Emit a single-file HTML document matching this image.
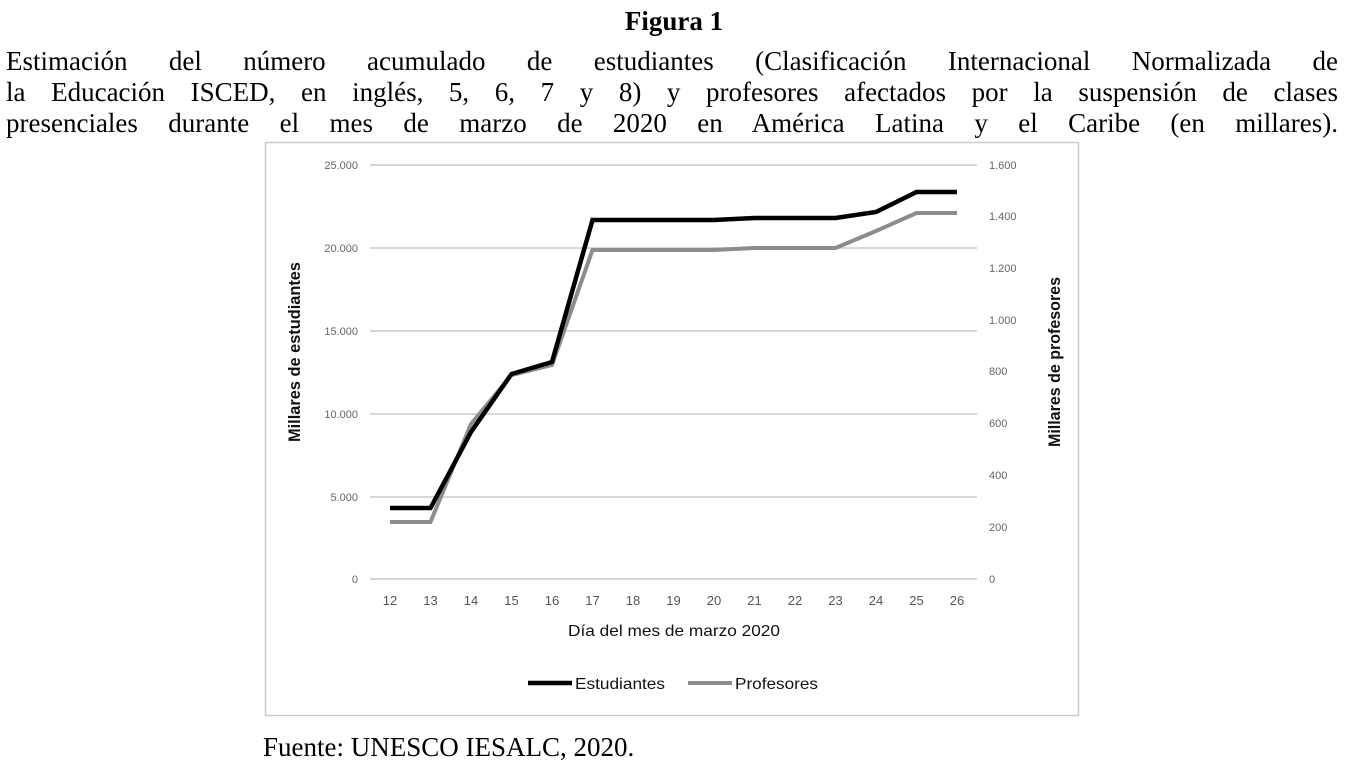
<!DOCTYPE html>
<html><head><meta charset="utf-8"><style>
html,body{margin:0;padding:0;background:#fff;width:1348px;height:770px;overflow:hidden}
.l{position:absolute;left:6px;width:1332px;font-family:"Liberation Serif",serif;font-size:27px;line-height:31px;text-align:justify;text-align-last:justify;color:#000}
</style></head><body>
<div style="position:absolute;top:6px;left:0;width:1348px;text-align:center;font-family:'Liberation Serif',serif;font-weight:bold;font-size:27px;line-height:31px">Figura 1</div>
<div class="l" style="top:46px">Estimación del número acumulado de estudiantes (Clasificación Internacional Normalizada de</div>
<div class="l" style="top:77px">la Educación ISCED, en inglés, 5, 6, 7 y 8) y profesores afectados por la suspensión de clases</div>
<div class="l" style="top:108px">presenciales durante el mes de marzo de 2020 en América Latina y el Caribe (en millares).</div>
<div style="position:absolute;top:732px;left:263px;font-family:'Liberation Serif',serif;font-size:27px;line-height:30px">Fuente: UNESCO IESALC, 2020.</div>
<svg width="1348" height="770" style="position:absolute;left:0;top:0" font-family="Liberation Sans, sans-serif">
<rect x="265.5" y="142.5" width="813" height="573" fill="none" stroke="#ccc" stroke-width="1.5"/>
<g stroke="#d8d8d8" stroke-width="2">
<line x1="370" x2="977" y1="165" y2="165"/><line x1="370" x2="977" y1="248" y2="248"/>
<line x1="370" x2="977" y1="331" y2="331"/><line x1="370" x2="977" y1="414" y2="414"/>
<line x1="370" x2="977" y1="497" y2="497"/><line x1="370" x2="977" y1="579" y2="579"/>
</g>
<g font-size="11" fill="#666" text-anchor="end">
<text x="358" y="169">25.000</text><text x="358" y="252">20.000</text><text x="358" y="335">15.000</text>
<text x="358" y="418">10.000</text><text x="358" y="501">5.000</text><text x="358" y="583">0</text>
</g>
<g font-size="11" fill="#666" text-anchor="start">
<text x="989" y="169">1.600</text><text x="989" y="220">1.400</text><text x="989" y="272">1.200</text>
<text x="989" y="324">1.000</text><text x="989" y="375">800</text><text x="989" y="427">600</text>
<text x="989" y="479">400</text><text x="989" y="531">200</text><text x="989" y="583">0</text>
</g>
<g font-size="13" fill="#555" text-anchor="middle">
<text x="390" y="605">12</text><text x="430.5" y="605">13</text><text x="471" y="605">14</text><text x="511.5" y="605">15</text>
<text x="552" y="605">16</text><text x="592.5" y="605">17</text><text x="633" y="605">18</text><text x="673.5" y="605">19</text>
<text x="714" y="605">20</text><text x="754.5" y="605">21</text><text x="795" y="605">22</text><text x="835.5" y="605">23</text>
<text x="876" y="605">24</text><text x="916.5" y="605">25</text><text x="957" y="605">26</text>
</g>
<text x="568" y="636" font-size="16" fill="#111" textLength="212" lengthAdjust="spacingAndGlyphs">Día del mes de marzo 2020</text>
<text transform="translate(300,442) rotate(-90)" font-size="17" fill="#111" font-weight="bold" textLength="180" lengthAdjust="spacingAndGlyphs">Millares de estudiantes</text>
<text transform="translate(1060,447) rotate(-90)" font-size="17" fill="#111" font-weight="bold" textLength="170" lengthAdjust="spacingAndGlyphs">Millares de profesores</text>
<polyline fill="none" stroke="#8c8c8c" stroke-width="4" points="390,522 430.5,522 471,424 511.5,375 552,365 592.5,250 633,250 673.5,250 714,250 754.5,248 795,248 835.5,248 876,231 916.5,213 957,213"/>
<polyline fill="none" stroke="#000" stroke-width="4.5" points="390,508 430.5,508 471,432 511.5,374 552,362 592.5,220 633,220 673.5,220 714,220 754.5,218 795,218 835.5,218 876,212 916.5,192 957,192"/>
<line x1="528" x2="572" y1="683" y2="683" stroke="#000" stroke-width="4.5"/>
<text x="575" y="689" font-size="16" fill="#111" textLength="90" lengthAdjust="spacingAndGlyphs">Estudiantes</text>
<line x1="688" x2="732" y1="683" y2="683" stroke="#8c8c8c" stroke-width="4"/>
<text x="735" y="689" font-size="16" fill="#111" textLength="83" lengthAdjust="spacingAndGlyphs">Profesores</text>
</svg>
</body></html>
